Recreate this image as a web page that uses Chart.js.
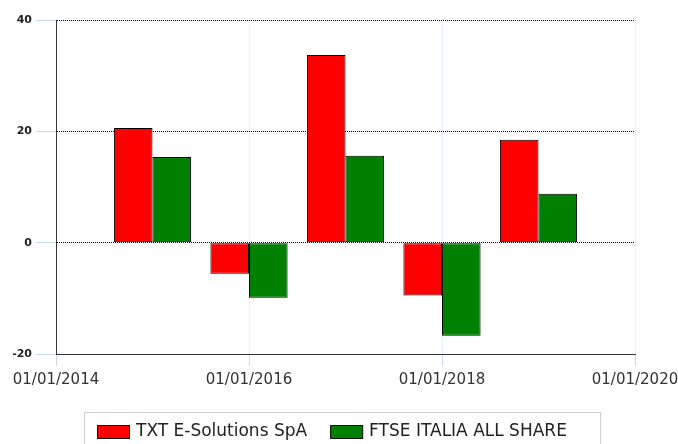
<!DOCTYPE html>
<html>
<head>
<meta charset="utf-8">
<script src="https://cdn.jsdelivr.net/npm/chart.js@4/dist/chart.umd.min.js"></script>
<style>
  html, body { margin: 0; padding: 0; background: #fff; }
  #wrap { width: 678px; height: 444px; }
</style>
</head>
<body>
<div id="wrap"><canvas id="perfChart"></canvas></div>
<script>
// yearly performance (%), bars placed at the start of each year
var years = [2015, 2016, 2017, 2018, 2019];
var txtValues = [20.6, -5.6, 33.7, -9.5, 18.5];
var ftseValues = [15.4, -9.9, 15.6, -16.7, 8.8];
var seriesNames = ['TXT E-Solutions SpA', 'FTSE ITALIA ALL SHARE'];
var yTicks = [-20, 0, 20, 40];

function toPoints(vals) {
    return years.map(function(y, i) { return { x: y, y: vals[i] }; });
}

// legend drawn by hand: boxed row under the axis, partly cut by the bottom edge
var boxedLegend = {
    id: 'boxedLegend',
    afterDraw: function(chart) {
        var ctx = chart.ctx;
        var sets = chart.data.datasets;
        ctx.save();
        ctx.font = '17px "DejaVu Sans"';
        var widths = sets.map(function(ds) { return ctx.measureText(ds.label).width; });
        var inner = 0;
        widths.forEach(function(w, i) { inner += 33 + 6 + w + (i < widths.length - 1 ? 23 : 0); });
        var frameW = inner + 13 + 33;
        var frameL = Math.round(342 - frameW / 2);
        ctx.strokeStyle = '#d0d0d0';
        ctx.lineWidth = 1;
        ctx.strokeRect(frameL + 0.5, 412.5, Math.round(frameW), 60);
        var x = frameL + 13;
        sets.forEach(function(ds, i) {
            ctx.fillStyle = ds.backgroundColor;
            ctx.fillRect(x, 425, 33, 14);
            ctx.strokeStyle = '#111';
            ctx.strokeRect(x + 0.5, 425.5, 32, 13);
            ctx.fillStyle = '#222';
            ctx.textBaseline = 'middle';
            ctx.textAlign = 'left';
            ctx.fillText(ds.label, x + 39, 432);
            x += 33 + 6 + widths[i] + 23;
        });
        ctx.restore();
    }
};

var ctx = document.getElementById('perfChart').getContext('2d');
var perfChart = new Chart(ctx, {
    type: 'bar',
    data: {
        datasets: [{
            label: seriesNames[0],
            data: toPoints(txtValues),
            backgroundColor: '#ff0000',
            borderColor: '#000',
            borderWidth: 1,
            borderSkipped: false
        }, {
            label: seriesNames[1],
            data: toPoints(ftseValues),
            backgroundColor: '#008000',
            borderColor: '#000',
            borderWidth: 1,
            borderSkipped: false
        }]
    },
    options: {
        responsive: true,
        maintainAspectRatio: false,
        animation: false,
        layout: { padding: { top: 20, right: 0, left: 0, bottom: 44 } },
        datasets: { bar: { categoryPercentage: 0.8, barPercentage: 1.0 } },
        scales: {
            x: {
                type: 'linear',
                offset: false,
                min: 2014,
                max: 2020,
                afterFit: function(scale) {
                    scale.height = 46;
                    scale.paddingRight = 43;
                    scale.paddingLeft = 0;
                },
                grid: {
                    offset: false,
                    color: 'rgba(190,210,235,0.6)',
                    tickColor: '#c6d9f0',
                    tickLength: 12
                },
                border: { display: true, color: '#333', width: 1, dash: [1, 1] },
                ticks: {
                    stepSize: 2,
                    maxRotation: 0,
                    padding: 5,
                    color: '#333',
                    font: { family: 'DejaVu Sans', size: 15 },
                    callback: function(v) { return '01/01/' + v; }
                }
            },
            y: {
                min: -20,
                max: 40,
                afterBuildTicks: function(scale) {
                    scale.ticks = yTicks.map(function(v) { return { value: v }; });
                },
                afterFit: function(scale) { scale.width = 56; },
                grid: {
                    color: function(c) { return c.tick && c.tick.value === -20 ? 'rgba(0,0,0,0)' : '#000'; },
                    tickColor: '#c6d9f0',
                    tickLength: 20
                },
                border: { display: true, color: '#333', width: 1, dash: [1, 1] },
                ticks: {
                    padding: 4,
                    color: '#222',
                    font: { family: 'DejaVu Sans', size: 11, weight: 'bold' }
                }
            }
        },
        plugins: {
            legend: { display: false },
            tooltip: { enabled: false }
        }
    },
    plugins: [boxedLegend]
});
</script>
</body>
</html>
